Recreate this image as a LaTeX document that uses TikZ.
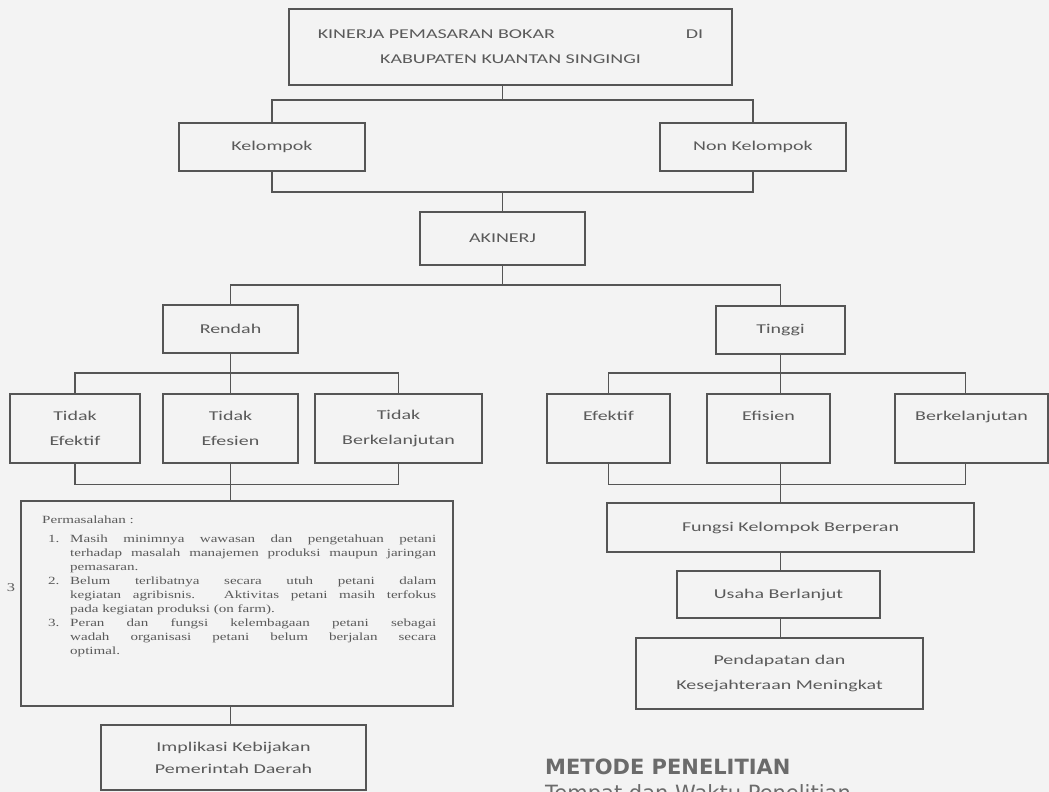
\documentclass[tikz,border=0pt]{standalone}
\usepackage{fontspec}
\setmainfont{Carlito}[FakeStretch=1.48]
\newfontfamily\ketfont{Liberation Serif}[FakeStretch=1.37]
\newfontfamily\judulfont{DejaVu Sans}
\definecolor{garis}{RGB}{85,85,85}
\definecolor{tulisan}{RGB}{90,90,90}
\definecolor{kertas}{RGB}{243,243,243}
\newcommand{\jline}[1]{\makebox[366pt][s]{#1}}
\newcommand{\mnum}[1]{\makebox[28pt][l]{\hspace{6pt}#1}}
\newcommand{\mind}{\hspace*{28pt}}
\begin{document}
\begin{tikzpicture}[x=1pt,y=-1pt,
  kotak/.style={draw=garis,line width=1.3pt,text=tulisan,align=center,inner sep=0pt,font=\fontsize{13.5}{25}\selectfont},
  link/.style={draw=garis,line width=1.3pt}]
\useasboundingbox (0,0) rectangle (1049,792);
\fill[kertas] (0,0) rectangle (1049,792);
\node[kotak,minimum width=443pt,minimum height=76pt] (top) at (510.5,47) {KINERJA PEMASARAN BOKAR\hspace{131pt}DI\\KABUPATEN KUANTAN SINGINGI};
\node[kotak,minimum width=186pt,minimum height=48pt] (kel) at (272,147) {Kelompok};
\node[kotak,minimum width=186pt,minimum height=48pt] (nonkel) at (753,147) {Non Kelompok};
\node[kotak,minimum width=165pt,minimum height=53pt] (akin) at (502.5,238.5) {AKINERJ};
\node[kotak,minimum width=135pt,minimum height=48pt] (rendah) at (230.5,329) {Rendah};
\node[kotak,minimum width=129pt,minimum height=48pt] (tinggi) at (780.5,330) {Tinggi};
\node[kotak,minimum width=130pt,minimum height=69pt] (te) at (75,428.5) {Tidak\\Efektif};
\node[kotak,minimum width=135pt,minimum height=69pt] (tes) at (230.5,428.5) {Tidak\\Efesien};
\node[kotak,minimum width=167pt,minimum height=69pt] (tb) at (398.5,428.5) {Tidak\\Berkelanjutan};
\node[kotak,minimum width=123pt,minimum height=69pt] (ef) at (608.5,428.5) {Efektif\\\mbox{}};
\node[kotak,minimum width=123pt,minimum height=69pt] (es) at (768.5,428.5) {Efisien\\\mbox{}};
\node[kotak,minimum width=153pt,minimum height=69pt] (eb) at (971.5,428.5) {Berkelanjutan\\\mbox{}};
\node[kotak,minimum width=432pt,minimum height=205pt] (masalah) at (237,603.5) {};
\node[anchor=north west,inner sep=0pt,align=left,text=tulisan,font=\ketfont\fontsize{11}{14}\selectfont] (masalahisi) at (42,516) {Permasalahan :\\[5pt]
\mnum{1.}\jline{Masih minimnya wawasan dan pengetahuan petani}\\
\mind\jline{terhadap masalah manajemen produksi maupun jaringan}\\
\mind pemasaran.\\
\mnum{2.}\jline{Belum terlibatnya secara utuh petani dalam}\\
\mind\jline{kegiatan agribisnis. Aktivitas petani masih terfokus}\\
\mind pada kegiatan produksi (on farm).\\
\mnum{3.}\jline{Peran dan fungsi kelembagaan petani sebagai}\\
\mind\jline{wadah organisasi petani belum berjalan secara}\\
\mind optimal.};
\node[kotak,minimum width=265pt,minimum height=65pt,font=\fontsize{13.5}{22}\selectfont] (impl) at (233.5,757.5) {Implikasi Kebijakan\\Pemerintah Daerah};
\node[kotak,minimum width=367pt,minimum height=49pt] (fungsi) at (790.5,527.5) {Fungsi Kelompok Berperan};
\node[kotak,minimum width=203pt,minimum height=47pt] (usaha) at (778.5,594.5) {Usaha Berlanjut};
\node[kotak,minimum width=287pt,minimum height=71pt] (pend) at (779.5,673.5) {Pendapatan dan\\Kesejahteraan Meningkat};
\node[anchor=base west,inner sep=0pt,text=tulisan!90,font=\judulfont\bfseries\fontsize{21}{25}\selectfont] (metode) at (545,774) {METODE PENELITIAN};
\node[anchor=north west,inner sep=0pt,text=tulisan!90,font=\judulfont\fontsize{21}{25}\selectfont] (tempat) at (545,784) {Tempat dan Waktu Penelitian};
\node[inner sep=0pt,text=tulisan,font=\ketfont\fontsize{12}{14}\selectfont] (tiga) at (11,588) {3};
\coordinate (busA) at (0,100);
\coordinate (busB) at (0,192);
\coordinate (busC) at (0,285);
\coordinate (busD) at (0,373);
\coordinate (busE) at (0,484.5);
\draw[link] (top.south -| akin.north) |- (kel.north |- busA) -- (kel.north);
\draw[link] (akin.north |- busA) -| (nonkel.north);
\draw[link] (kel.south) |- (nonkel.south |- busB) -- (nonkel.south);
\draw[link] (akin.north |- busB) -- (akin.north);
\draw[link] (akin.south) |- (rendah.north |- busC) -- (rendah.north);
\draw[link] (akin.south |- busC) -| (tinggi.north);
\draw[link] (te.north) |- (tb.north |- busD) -- (tb.north);
\draw[link] (rendah.south) -- (tes.north);
\draw[link] (ef.north) |- ([xshift=-6pt]eb.north |- busD) -- ([xshift=-6pt]eb.north);
\draw[link] (tinggi.south) -- (tinggi.south |- es.north);
\draw[link] (te.south) |- (tb.south |- busE) -- (tb.south);
\draw[link] (tes.south) -- (tes.south |- masalah.north);
\draw[link] (tes.south |- masalah.south) -- (tes.south |- impl.north);
\draw[link] (ef.south) |- ([xshift=-6pt]eb.south |- busE) -- ([xshift=-6pt]eb.south);
\draw[link] (tinggi.south |- es.south) -- (tinggi.south |- fungsi.north);
\draw[link] (tinggi.south |- fungsi.south) -- (tinggi.south |- usaha.north);
\draw[link] (tinggi.south |- usaha.south) -- (tinggi.south |- pend.north);
\end{tikzpicture}
\end{document}
